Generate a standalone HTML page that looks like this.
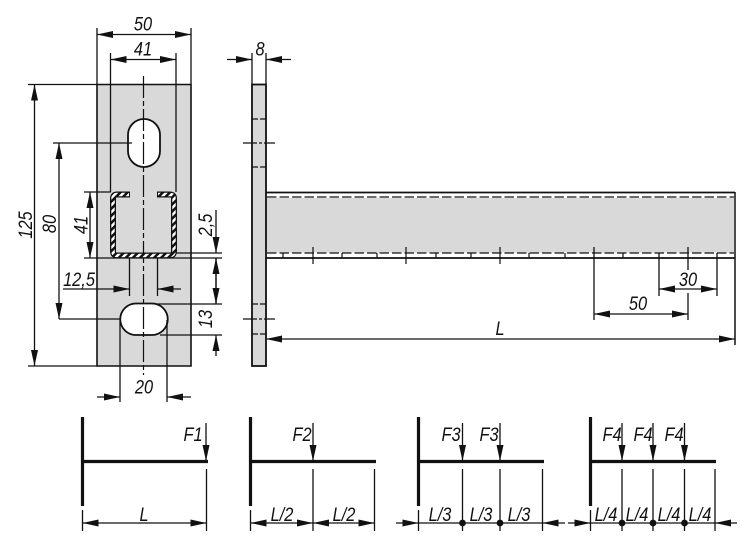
<!DOCTYPE html>
<html><head><meta charset="utf-8"><style>
html,body{margin:0;padding:0;background:#fff}
svg{display:block}
text{font-family:"Liberation Sans",sans-serif;font-style:italic;font-size:19.500px;fill:#111;text-anchor:middle}
.d line,.d path{stroke:#111;stroke-width:1.300;fill:none}
</style></head><body>
<svg width="750" height="544" viewBox="0 0 750 544" xmlns="http://www.w3.org/2000/svg">
<defs>
<marker id="a" markerUnits="userSpaceOnUse" markerWidth="17" markerHeight="9" refX="16" refY="4.500" orient="auto-start-reverse"><path d="M0 1L16 4.500L0 8Z" fill="#111"/></marker>
<pattern id="h" patternUnits="userSpaceOnUse" width="5" height="5" patternTransform="rotate(45)"><rect width="5" height="5" fill="#fff"/><rect width="2.500" height="5" fill="#111"/></pattern>
</defs>
<rect width="750" height="544" fill="#fff"/>

<!-- front plate -->
<rect x="97" y="84.500" width="94" height="281.500" fill="#d9d9d9"/>
<path d="M97 366V84.500H191V366Z" fill="none" stroke="#111" stroke-width="1.600"/>
<path d="M144 119a16 16 0 0 1 16 16v16a16 16 0 0 1-32 0v-16a16 16 0 0 1 16-16Z" fill="#fff" stroke="#111" stroke-width="1.800"/>
<path d="M136 303.500h16a15.750 15.750 0 0 1 0 31.500h-16a15.750 15.750 0 0 1 0-31.500Z" fill="#fff" stroke="#111" stroke-width="1.800"/>

<!-- centre line -->
<line x1="143.500" y1="76" x2="143.500" y2="375" stroke="#111" stroke-width="1.200" stroke-dasharray="22 3 5 3"/>

<!-- channel section -->
<g fill="none">
<path d="M130 194.500H117Q113 194.500 113 198.500V251Q113 255.500 117 255.500H170Q174 255.500 174 251V198.500Q174 194.500 170 194.500H157" stroke="#111" stroke-width="6"/>
<path d="M129 194.500H117Q113 194.500 113 198.500V251Q113 255.500 117 255.500H170Q174 255.500 174 251V198.500Q174 194.500 170 194.500H158" stroke="url(#h)" stroke-width="3.400"/>
</g>

<!-- front view dimensions -->
<g class="d">
<line x1="97" y1="28" x2="97" y2="84"/><line x1="191" y1="28" x2="191" y2="84"/>
<line x1="97" y1="34.500" x2="191" y2="34.500" marker-start="url(#a)" marker-end="url(#a)"/>
<line x1="110.500" y1="53" x2="110.500" y2="192"/><line x1="176" y1="53" x2="176" y2="192"/>
<line x1="110.500" y1="59.500" x2="176" y2="59.500" marker-start="url(#a)" marker-end="url(#a)"/>
<line x1="28" y1="84.500" x2="97" y2="84.500"/><line x1="28" y1="366" x2="97" y2="366"/>
<line x1="34.500" y1="84.500" x2="34.500" y2="366" marker-start="url(#a)" marker-end="url(#a)"/>
<line x1="53" y1="143" x2="132" y2="143"/>
<line x1="59" y1="319" x2="120" y2="319"/>
<line x1="59" y1="143" x2="59" y2="319" marker-start="url(#a)" marker-end="url(#a)"/>
<line x1="84" y1="192" x2="111" y2="192"/>
<line x1="84" y1="258" x2="222" y2="258"/>
<line x1="176" y1="253" x2="222" y2="253"/>
<line x1="90" y1="192" x2="90" y2="258" marker-start="url(#a)" marker-end="url(#a)"/>
<line x1="216" y1="210" x2="216" y2="253" marker-end="url(#a)"/>
<line x1="216" y1="304" x2="216" y2="258" marker-end="url(#a)"/>
<line x1="216" y1="258" x2="216" y2="304" marker-end="url(#a)"/>
<line x1="216" y1="356" x2="216" y2="335" marker-end="url(#a)"/>
<line x1="155" y1="304" x2="222" y2="304"/>
<line x1="160" y1="335" x2="222" y2="335"/>
<line x1="129.500" y1="258" x2="129.500" y2="296"/><line x1="157.500" y1="258" x2="157.500" y2="296"/>
<line x1="63" y1="289" x2="129.500" y2="289" marker-end="url(#a)"/>
<line x1="181" y1="289" x2="157.500" y2="289" marker-end="url(#a)"/>
<line x1="120" y1="320" x2="120" y2="402"/><line x1="167" y1="320" x2="167" y2="402"/>
<line x1="97" y1="397" x2="120" y2="397" marker-end="url(#a)"/>
<line x1="191" y1="397" x2="167" y2="397" marker-end="url(#a)"/>
</g>

<!-- side plate -->
<rect x="252" y="84.500" width="14" height="281.500" fill="#d9d9d9" stroke="#111" stroke-width="1.800"/>
<g stroke="#111" stroke-width="1.200">
<line x1="252" y1="119" x2="266" y2="119" stroke-dasharray="6 2"/>
<line x1="252" y1="167" x2="266" y2="167" stroke-dasharray="6 2"/>
<line x1="252" y1="304" x2="266" y2="304" stroke-dasharray="6 2"/>
<line x1="252" y1="334" x2="266" y2="334" stroke-dasharray="6 2"/>
<line x1="243" y1="143" x2="275" y2="143" stroke-dasharray="14 2 3 2"/>
<line x1="243" y1="319" x2="275" y2="319" stroke-dasharray="14 2 3 2"/>
</g>
<g class="d">
<line x1="252" y1="53" x2="252" y2="84"/><line x1="266" y1="53" x2="266" y2="84"/>
<line x1="227" y1="59.500" x2="252" y2="59.500" marker-end="url(#a)"/>
<line x1="291" y1="59.500" x2="266" y2="59.500" marker-end="url(#a)"/>
</g>

<!-- beam -->
<rect x="267" y="198" width="467" height="54.500" fill="#d9d9d9"/>
<g stroke="#111">
<line x1="266" y1="192.500" x2="735" y2="192.500" stroke-width="1.800"/>
<line x1="266" y1="258" x2="735" y2="258" stroke-width="1.800"/>
<line x1="735" y1="192" x2="735" y2="345" stroke-width="1.500"/>
<line x1="267" y1="197" x2="734" y2="197" stroke-width="1.200" stroke-dasharray="9.500 3"/>
<line x1="267" y1="253" x2="734" y2="253" stroke-width="1.200" stroke-dasharray="9.500 3"/>
</g>
<g stroke="#111" stroke-width="1.200">
<line x1="313" y1="247" x2="313" y2="264"/><line x1="406" y1="247" x2="406" y2="264"/>
<line x1="500" y1="247" x2="500" y2="264"/>
<line x1="283" y1="253" x2="283" y2="258"/><line x1="342" y1="253" x2="342" y2="258"/>
<line x1="377" y1="253" x2="377" y2="258"/><line x1="436" y1="253" x2="436" y2="258"/>
<line x1="471" y1="253" x2="471" y2="258"/><line x1="529" y1="253" x2="529" y2="258"/>
<line x1="565" y1="253" x2="565" y2="258"/><line x1="623" y1="253" x2="623" y2="258"/>
</g>
<g class="d">
<line x1="594" y1="247" x2="594" y2="320"/>
<line x1="688" y1="247" x2="688" y2="270"/><line x1="688" y1="293" x2="688" y2="320"/>
<line x1="594" y1="314" x2="688" y2="314" marker-start="url(#a)" marker-end="url(#a)"/>
<line x1="659" y1="253" x2="659" y2="296"/><line x1="717" y1="253" x2="717" y2="296"/>
<line x1="659" y1="289" x2="717" y2="289" marker-start="url(#a)" marker-end="url(#a)"/>
<line x1="266" y1="339" x2="735" y2="339" marker-start="url(#a)" marker-end="url(#a)"/>
</g>

<!-- load diagrams: structure -->
<g stroke="#111" stroke-width="3.200" fill="none">
<path d="M82.500 417V506M82 461.500H208"/>
<path d="M250.500 417V506M250 461.500H376"/>
<path d="M418.500 417V506M418 461.500H544"/>
<path d="M590.500 417V506M590 461.500H716"/>
</g>
<g class="d">
<line x1="206" y1="423" x2="206" y2="461" marker-end="url(#a)"/>
<line x1="313" y1="423" x2="313" y2="461" marker-end="url(#a)"/>
<line x1="462.500" y1="423" x2="462.500" y2="461" marker-end="url(#a)"/>
<line x1="500" y1="423" x2="500" y2="461" marker-end="url(#a)"/>
<line x1="622" y1="423" x2="622" y2="461" marker-end="url(#a)"/>
<line x1="653" y1="423" x2="653" y2="461" marker-end="url(#a)"/>
<line x1="684.500" y1="423" x2="684.500" y2="461" marker-end="url(#a)"/>
<path d="M82.500 510V531M206.500 469V531"/>
<path d="M250.500 510V531M313 469V531M374.500 469V531"/>
<path d="M418.500 510V531M462.500 469V531M500 469V531M542.500 469V531"/>
<path d="M590.500 510V531M622 469V531M653 469V531M684.500 469V531M715 469V531"/>
<line x1="82.500" y1="523" x2="206.500" y2="523" marker-start="url(#a)" marker-end="url(#a)"/>
<line x1="250.500" y1="523" x2="313" y2="523" marker-start="url(#a)" marker-end="url(#a)"/>
<line x1="313" y1="523" x2="374.500" y2="523" marker-start="url(#a)" marker-end="url(#a)"/>
<line x1="396" y1="523" x2="418.500" y2="523" marker-end="url(#a)"/>
<line x1="418.500" y1="523" x2="542.500" y2="523"/>
<line x1="565" y1="523" x2="542.500" y2="523" marker-end="url(#a)"/>
<line x1="568" y1="523" x2="590.500" y2="523" marker-end="url(#a)"/>
<line x1="590.500" y1="523" x2="715" y2="523"/>
<line x1="737" y1="523" x2="715" y2="523" marker-end="url(#a)"/>
</g>
<g fill="#111">
<circle cx="462.500" cy="523" r="3.400"/><circle cx="500" cy="523" r="3.400"/>
<circle cx="622" cy="523" r="3.400"/><circle cx="653" cy="523" r="3.400"/><circle cx="684.500" cy="523" r="3.400"/>
</g>

<!-- labels -->
<g>
<text transform="translate(143,30.500) scale(.84,1)">50</text>
<text transform="translate(143,55.500) scale(.84,1)">41</text>
<text transform="translate(260,55.500) scale(.84,1)">8</text>
<text transform="translate(32,225) rotate(-90) scale(.84,1)">125</text>
<text transform="translate(56,224) rotate(-90) scale(.84,1)">80</text>
<text transform="translate(87.500,225) rotate(-90) scale(.84,1)">41</text>
<text transform="translate(212,225) rotate(-90) scale(.84,1)">2,5</text>
<text transform="translate(212,319) rotate(-90) scale(.84,1)">13</text>
<text transform="translate(79,286) scale(.84,1)">12,5</text>
<text transform="translate(144,393.500) scale(.84,1)">20</text>
<text transform="translate(688,286) scale(.84,1)">30</text>
<text transform="translate(638,310) scale(.84,1)">50</text>
<text transform="translate(500,335) scale(.84,1)">L</text>
<text transform="translate(193,441) scale(.84,1)">F1</text>
<text transform="translate(302,441) scale(.84,1)">F2</text>
<text transform="translate(451,441) scale(.84,1)">F3</text>
<text transform="translate(489,441) scale(.84,1)">F3</text>
<text transform="translate(612,441) scale(.84,1)">F4</text>
<text transform="translate(643,441) scale(.84,1)">F4</text>
<text transform="translate(674,441) scale(.84,1)">F4</text>
<text transform="translate(144,521) scale(.84,1)">L</text>
<text transform="translate(282,521) scale(.84,1)">L/2</text>
<text transform="translate(344,521) scale(.84,1)">L/2</text>
<text transform="translate(440,521) scale(.84,1)">L/3</text>
<text transform="translate(481,521) scale(.84,1)">L/3</text>
<text transform="translate(519,521) scale(.84,1)">L/3</text>
<text transform="translate(606,521) scale(.84,1)">L/4</text>
<text transform="translate(637,521) scale(.84,1)">L/4</text>
<text transform="translate(669,521) scale(.84,1)">L/4</text>
<text transform="translate(700,521) scale(.84,1)">L/4</text>
</g>
</svg>
</body></html>
